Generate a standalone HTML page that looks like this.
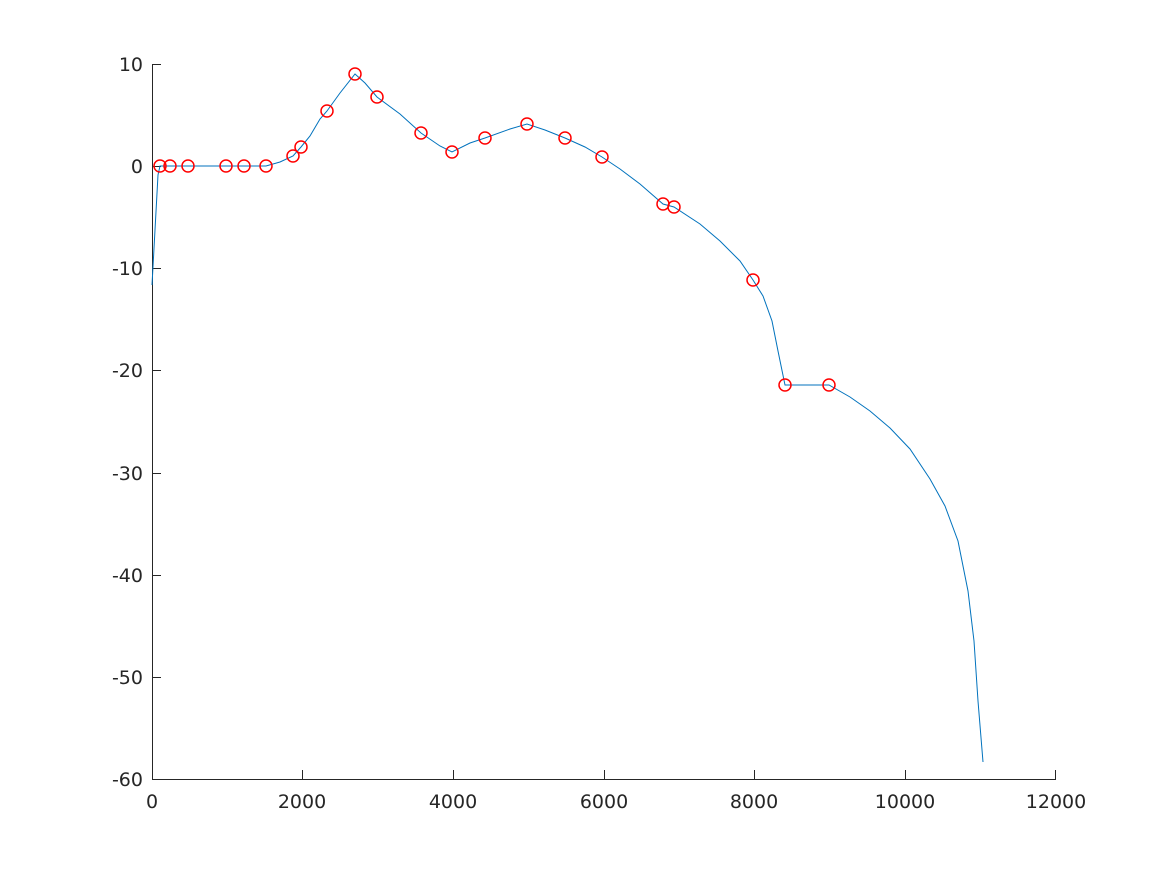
<!DOCTYPE html>
<html><head><meta charset="utf-8"><style>body{margin:0;background:#fff}svg{display:block}text{font-family:"DejaVu Sans","Liberation Sans",sans-serif;font-size:19px;fill:#262626}</style></head>
<body>
<svg width="1167" height="875" viewBox="0 0 1167 875">
<rect width="1167" height="875" fill="#fff"/>
<g stroke="#262626" stroke-width="1" fill="none">
<line x1="152.5" y1="64" x2="152.5" y2="779.5"/>
<line x1="152" y1="779.5" x2="1056" y2="779.5"/>
<path d="M152 64.5h9M152 166.5h9M152 268.5h9M152 370.5h9M152 473.5h9M152 575.5h9M152 677.5h9"/>
<path d="M302.5 779v-9M453.5 779v-9M604.5 779v-9M754.5 779v-9M905.5 779v-9M1055.5 779v-9"/>
</g>
<g text-anchor="end">
<text x="143" y="71">10</text><text x="143" y="173">0</text><text x="143" y="275">-10</text><text x="143" y="377">-20</text><text x="143" y="480">-30</text><text x="143" y="582">-40</text><text x="143" y="684">-50</text><text x="143" y="786">-60</text>
</g>
<g text-anchor="middle">
<text x="152" y="808">0</text><text x="302" y="808">2000</text><text x="453" y="808">4000</text><text x="604" y="808">6000</text><text x="754" y="808">8000</text><text x="905" y="808">10000</text><text x="1056" y="808">12000</text>
</g>
<polyline fill="none" stroke="#0072BD" stroke-width="1" points="152,285 155,230 158,175 160,166 266,166 280,162 293,156 301,147 310,136 320,119 327,111 340,93 355,74 365,83 377,97 400,114 421,133 440,146 452,152 470,143 485,138 510,129 527,124 545,130 565,138 585,147 602,157 620,169 640,184 663,204 674,207 700,224 720,241 740,261 753,280 763,296 772,321 778,351 785,385 829,385 850,397 870,411 890,428 910,449 930,479 945,506 958,541 968,591 974,641 978,701 983,762"/>
<g fill="none" stroke="#FF0000" stroke-width="1.5">
<circle cx="160" cy="166" r="6"/><circle cx="170" cy="166" r="6"/><circle cx="188" cy="166" r="6"/><circle cx="226" cy="166" r="6"/><circle cx="244" cy="166" r="6"/><circle cx="266" cy="166" r="6"/><circle cx="293" cy="156" r="6"/><circle cx="301" cy="147" r="6"/><circle cx="327" cy="111" r="6"/><circle cx="355" cy="74" r="6"/><circle cx="377" cy="97" r="6"/><circle cx="421" cy="133" r="6"/><circle cx="452" cy="152" r="6"/><circle cx="485" cy="138" r="6"/><circle cx="527" cy="124" r="6"/><circle cx="565" cy="138" r="6"/><circle cx="602" cy="157" r="6"/><circle cx="663" cy="204" r="6"/><circle cx="674" cy="207" r="6"/><circle cx="753" cy="280" r="6"/><circle cx="785" cy="385" r="6"/><circle cx="829" cy="385" r="6"/>
</g>
</svg>
</body></html>
